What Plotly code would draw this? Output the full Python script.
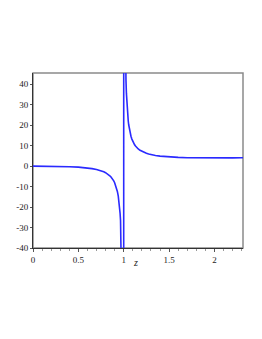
import plotly.graph_objects as go

# values (left branch, asymptote jump, right branch)
z_vals = [0.0, 0.1, 0.2, 0.3, 0.4, 0.5, 0.55, 0.6, 0.65, 0.7, 0.73, 0.76, 0.78, 0.8, 0.82, 0.84, 0.85, 0.86, 0.87,
          0.88, 0.89, 0.9, 0.91, 0.92, 0.93, 0.94, 0.945, 0.95, 0.955, 0.96, 0.965, 0.97,
          0.975, 0.98, 0.99, 0.9995,
          1.0005, 1.01, 1.015, 1.02, 1.025, 1.03, 1.035, 1.04, 1.045, 1.05, 1.055, 1.06, 1.065, 1.07,
          1.075, 1.08, 1.09, 1.1, 1.11, 1.12, 1.13, 1.145, 1.16, 1.18, 1.2, 1.225,
          1.25, 1.275, 1.3, 1.35, 1.4, 1.45, 1.5, 1.6, 1.7, 1.8, 1.9, 2.0, 2.1, 2.2, 2.3, 2.32]
y_vals = [0.0, -0.011, -0.05, -0.129, -0.267, -0.5, -0.67, -0.9, -1.21, -1.63, -1.97, -2.41, -2.77, -3.2, -3.74, -4.41, -4.82, -5.28, -5.83,
          -6.45, -7.2, -8.1, -9.2, -10.6, -12.36, -14.7, -16.2, -18.05, -20.25, -23.0, -26.6, -31.4,
          -38.0, -48.0, -98.0, -2000.0,
          2000.0, 102.0, 68.7, 52.0, 42.0, 35.4, 30.6, 27.0, 24.3, 22.05, 20.2, 18.7, 17.4, 16.3,
          15.4, 14.6, 13.2, 12.1, 11.2, 10.45, 9.8, 9.0, 8.4, 7.73, 7.2, 6.67,
          6.25, 5.91, 5.63, 5.19, 4.9, 4.67, 4.5, 4.27, 4.13, 4.05, 4.01, 4.0, 4.01, 4.03, 4.07, 4.08]

x_ticks = [0, 0.5, 1, 1.5, 2]
x_tick_labels = ["0", "0.5", "1", "1.5", "2"]
y_ticks = [-40, -30, -20, -10, 0, 10, 20, 30, 40]
y_tick_labels = ["-40", "-30", "-20", "-10", "0", "10", "20", "30", "40"]

fig = go.Figure()
fig.add_trace(go.Scatter(x=z_vals, y=y_vals, mode="lines",
                         line=dict(color="#2a2aff", width=1.6),
                         hoverinfo="skip", showlegend=False))

font = dict(family="Liberation Serif, DejaVu Serif, serif", size=9, color="#222")

fig.update_layout(
    width=262, height=339,
    margin=dict(l=25, r=27, t=65, b=99),
    paper_bgcolor="white", plot_bgcolor="white",
    font=font,
    shapes=[dict(type="rect", xref="paper", yref="paper", x0=0, y0=0, x1=1, y1=1,
                 line=dict(color="#8a8a8a", width=1.5), layer="below")],
    annotations=[dict(text="<i>z</i>", xref="paper", yref="paper", x=0.49, y=0,
                      yshift=-14, yanchor="middle", showarrow=False,
                      font=dict(family="Liberation Serif, serif", size=10, color="#222"))],
    xaxis=dict(range=[0, 2.315], tickvals=x_ticks, ticktext=x_tick_labels, automargin=False,
               showgrid=False, zeroline=False, showline=True, linecolor="#333", linewidth=1,
               ticks="outside", ticklen=3, tickcolor="#555", tickfont=font,
               minor=dict(dtick=0.1, ticks="outside", ticklen=2, tickcolor="#999")),
    yaxis=dict(range=[-40, 45.5], tickvals=y_ticks, ticktext=y_tick_labels, automargin=False,
               showgrid=False, zeroline=False, showline=True, linecolor="#333", linewidth=1,
               ticks="outside", ticklen=2, tickcolor="#555", tickfont=font),
)

fig.write_html("out.html")
